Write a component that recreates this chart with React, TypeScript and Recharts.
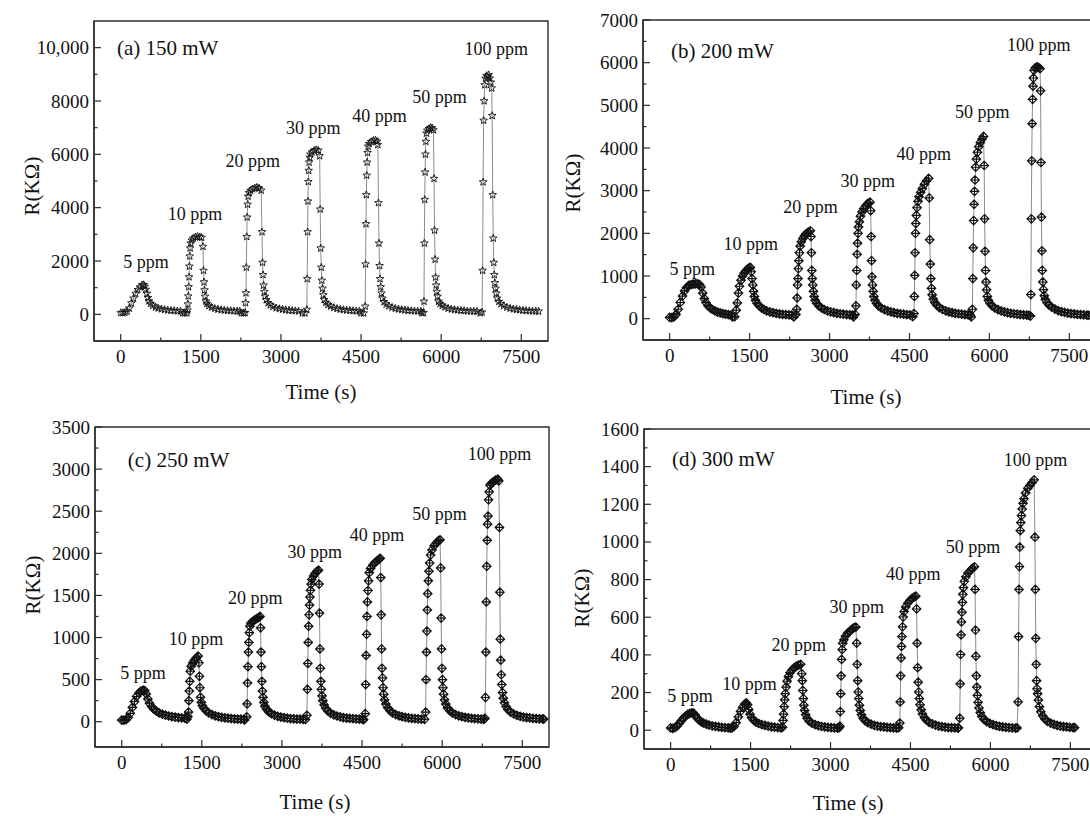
import React from "react";
import { LineChart, Line, XAxis, YAxis, ReferenceArea, ReferenceDot } from "recharts";

const FONT = '"Liberation Serif", "Times New Roman", serif';

const timeTicks = [0, 1500, 3000, 4500, 6000, 7500];
const timeMinorTicks = [750, 2250, 3750, 5250, 6750];

// (a) 150 mW  [time s, R kΩ]
const panelA: [number, number][] = [
  [0,60],[40,55],[80,70],[120,110],[160,230],[200,420],[240,600],[280,780],[320,920],[360,1020],[400,1100],[430,1110],[450,1050],[470,930],[490,780],[510,620],[530,500],[560,400],[600,330],[650,270],[700,230],[760,200],[820,175],[880,160],[940,145],[1000,135],[1060,125],[1120,120],
  [1160,50],[1200,45],[1240,50],[1250,150],[1258,380],[1265,680],[1272,1030],[1279,1400],[1286,1800],[1293,2180],[1300,2480],[1310,2670],[1330,2780],[1360,2850],[1400,2900],[1440,2920],[1480,2900],[1515,2880],[1540,2540],[1550,1640],[1560,1210],[1570,910],[1580,670],[1595,490],[1615,400],[1650,320],[1700,260],[1760,220],[1820,190],[1880,170],[1940,155],[2000,145],[2060,135],[2120,125],[2180,120],[2230,115],
  [2260,50],[2300,45],[2330,60],[2338,430],[2345,800],[2352,1760],[2360,2910],[2368,3640],[2376,4120],[2385,4420],[2400,4560],[2430,4640],[2470,4700],[2510,4740],[2550,4760],[2590,4730],[2630,4650],[2645,3090],[2655,1940],[2665,1480],[2675,1090],[2690,850],[2705,670],[2725,540],[2760,430],[2800,350],[2850,290],[2910,240],[2970,210],[3030,185],[3090,165],[3150,150],[3210,140],[3270,130],[3330,120],
  [3400,50],[3450,45],[3485,180],[3492,1330],[3499,3090],[3506,4240],[3513,4970],[3520,5390],[3528,5700],[3538,5880],[3550,6000],[3580,6080],[3620,6140],[3660,6170],[3700,6150],[3725,5940],[3735,3940],[3745,2480],[3755,1760],[3765,1270],[3778,970],[3792,730],[3810,545],[3840,440],[3880,360],[3930,300],[3990,250],[4050,215],[4110,190],[4170,170],[4230,155],[4290,145],[4350,135],[4410,125],[4470,120],
  [4500,50],[4550,45],[4578,300],[4585,1880],[4592,3390],[4599,4480],[4606,5210],[4614,5700],[4622,6060],[4632,6300],[4650,6400],[4690,6470],[4730,6520],[4770,6530],[4800,6480],[4815,6360],[4826,4180],[4836,2665],[4846,1820],[4856,1330],[4868,1030],[4882,790],[4900,600],[4930,470],[4970,380],[5020,310],[5080,260],[5140,220],[5200,195],[5260,175],[5320,160],[5380,145],[5440,135],[5500,125],[5560,120],[5620,115],
  [5640,50],[5670,60],[5678,485],[5685,2665],[5692,4300],[5699,5330],[5706,6000],[5714,6480],[5724,6790],[5740,6900],[5770,6960],[5800,7000],[5830,6990],[5855,6910],[5866,5090],[5876,3150],[5886,2060],[5896,1390],[5906,1090],[5918,850],[5932,670],[5950,485],[5980,400],[6020,330],[6070,270],[6130,225],[6190,195],[6250,175],[6310,160],[6370,145],[6430,135],[6490,125],[6550,120],[6610,115],[6670,110],
  [6730,50],[6765,80],[6775,1640],[6785,4960],[6795,7270],[6805,8000],[6815,8600],[6830,8850],[6850,8950],[6870,8900],[6890,8980],[6910,8850],[6930,8700],[6945,8480],[6955,7450],[6965,4480],[6975,2850],[6985,1940],[6995,1480],[7005,1180],[7018,970],[7032,790],[7050,600],[7080,480],[7120,390],[7170,320],[7230,265],[7290,225],[7350,200],[7410,180],[7470,165],[7530,150],[7590,140],[7650,130],[7710,125],[7770,120],[7825,115],
];

// (b) 200 mW
const panelB: [number, number][] = [
  [0,30],[40,25],[80,40],[120,100],[160,220],[200,380],[240,530],[280,650],[320,730],[360,780],[400,800],[440,810],[480,815],[520,820],[560,800],[590,740],[620,600],[650,470],[680,380],[720,300],[760,250],[800,215],[850,180],[900,155],[950,135],[1000,120],[1050,105],[1100,95],[1150,85],
  [1180,40],[1220,45],[1250,200],[1270,370],[1290,600],[1310,760],[1340,900],[1370,1000],[1400,1070],[1430,1120],[1460,1160],[1490,1190],[1515,1200],[1530,1100],[1545,940],[1560,790],[1575,640],[1590,520],[1610,430],[1640,360],[1680,300],[1720,255],[1770,215],[1820,185],[1880,160],[1940,140],[2000,125],[2060,110],[2120,100],[2180,95],[2240,90],[2290,85],
  [2330,40],[2370,100],[2385,220],[2392,485],[2400,790],[2407,940],[2415,1170],[2425,1360],[2435,1545],[2450,1700],[2470,1800],[2500,1880],[2530,1940],[2560,1990],[2600,2030],[2640,2060],[2652,1925],[2660,1545],[2668,1130],[2676,940],[2686,790],[2698,640],[2712,520],[2730,430],[2760,360],[2800,300],[2850,250],[2900,215],[2960,180],[3020,160],[3080,140],[3140,125],[3200,115],[3260,105],[3320,95],[3380,90],[3430,85],
  [3450,40],[3480,100],[3495,300],[3502,790],[3510,1130],[3518,1510],[3526,1770],[3535,2000],[3545,2150],[3560,2270],[3580,2400],[3610,2500],[3640,2580],[3680,2650],[3720,2700],[3760,2730],[3772,2530],[3780,1925],[3788,1360],[3796,980],[3806,790],[3818,640],[3832,520],[3850,430],[3880,360],[3920,300],[3970,250],[4030,210],[4090,180],[4150,160],[4210,140],[4270,125],[4330,115],[4390,105],[4450,95],[4510,90],
  [4560,45],[4585,120],[4592,520],[4598,1015],[4605,1545],[4612,2000],[4620,2230],[4630,2420],[4642,2600],[4660,2750],[4680,2860],[4710,2960],[4740,3050],[4780,3150],[4820,3230],[4860,3290],[4872,2830],[4880,1850],[4890,1280],[4900,940],[4912,710],[4926,560],[4945,460],[4975,380],[5010,320],[5060,260],[5120,215],[5180,185],[5240,160],[5300,140],[5360,125],[5420,115],[5480,105],[5540,95],[5600,90],[5640,85],
  [5660,40],[5680,220],[5688,940],[5696,1660],[5704,2300],[5712,2680],[5720,2985],[5730,3250],[5742,3550],[5756,3740],[5775,3900],[5800,4030],[5830,4130],[5860,4210],[5890,4270],[5902,3590],[5910,2340],[5918,1580],[5926,1130],[5936,860],[5948,675],[5962,520],[5980,430],[6010,360],[6050,300],[6100,250],[6160,210],[6220,180],[6280,160],[6340,140],[6400,125],[6460,115],[6520,105],[6580,95],[6640,90],[6700,85],[6740,80],
  [6770,60],[6778,566],[6786,2340],[6794,3700],[6802,4570],[6810,5140],[6818,5450],[6826,5640],[6836,5820],[6860,5880],[6890,5900],[6920,5890],[6950,5860],[6960,5340],[6968,3660],[6976,2380],[6984,1590],[6992,1130],[7002,860],[7014,680],[7030,540],[7050,450],[7080,380],[7120,320],[7170,270],[7230,225],[7290,190],[7350,165],[7410,145],[7470,130],[7530,120],[7590,110],[7650,100],[7710,95],[7770,90],[7830,85],[7860,80],
];

// (c) 250 mW
const panelC: [number, number][] = [
  [0,20],[40,18],[80,25],[120,50],[160,100],[200,170],[240,240],[280,300],[320,340],[360,365],[400,375],[430,370],[460,330],[490,270],[520,220],[560,180],[600,150],[650,125],[700,105],[760,90],[820,78],[880,68],[940,60],[1000,55],[1060,50],[1120,46],[1180,42],
  [1220,30],[1240,60],[1250,115],[1258,250],[1266,365],[1274,480],[1284,600],[1300,660],[1330,700],[1360,730],[1400,760],[1430,780],[1445,700],[1455,540],[1465,404],[1475,290],[1490,230],[1510,190],[1540,160],[1580,130],[1630,105],[1690,85],[1750,70],[1810,60],[1870,52],[1930,46],[1990,42],[2050,38],[2110,35],[2170,32],[2230,30],[2290,28],
  [2300,22],[2340,58],[2348,212],[2356,460],[2364,654],[2372,827],[2380,942],[2390,1058],[2400,1135],[2420,1170],[2450,1190],[2490,1210],[2530,1225],[2570,1240],[2590,1250],[2600,1115],[2608,827],[2616,654],[2624,480],[2634,365],[2646,290],[2660,230],[2680,185],[2710,150],[2750,120],[2800,95],[2860,78],[2920,65],[2980,55],[3040,48],[3100,42],[3160,38],[3220,35],[3280,32],[3340,30],[3400,28],[3440,27],
  [3468,77],[3476,385],[3484,692],[3492,942],[3500,1135],[3508,1270],[3516,1385],[3524,1480],[3534,1560],[3546,1635],[3560,1690],[3590,1730],[3620,1760],[3660,1790],[3685,1800],[3695,1635],[3703,1290],[3711,865],[3719,635],[3728,480],[3738,385],[3750,308],[3766,250],[3790,200],[3820,160],[3860,128],[3910,102],[3970,82],[4030,68],[4090,58],[4150,50],[4210,44],[4270,40],[4330,36],[4390,33],[4450,31],[4510,29],
  [4530,25],[4560,96],[4568,442],[4576,788],[4584,1038],[4592,1250],[4600,1423],[4610,1558],[4622,1673],[4636,1770],[4660,1820],[4700,1860],[4740,1890],[4780,1910],[4820,1930],[4840,1940],[4850,1712],[4858,1270],[4866,865],[4874,635],[4883,520],[4893,404],[4905,327],[4922,260],[4945,210],[4980,165],[5020,132],[5070,105],[5130,85],[5190,70],[5250,60],[5310,52],[5370,46],[5430,41],[5490,37],[5550,34],[5610,31],[5670,29],
  [5690,115],[5698,500],[5706,827],[5714,1077],[5722,1327],[5730,1520],[5740,1673],[5752,1788],[5766,1885],[5784,1980],[5810,2040],[5850,2090],[5890,2120],[5930,2150],[5960,2160],[5972,1827],[5980,1231],[5988,865],[5996,635],[6005,500],[6015,404],[6027,327],[6044,260],[6068,210],[6100,165],[6140,132],[6190,105],[6250,85],[6310,70],[6370,60],[6430,52],[6490,46],[6550,41],[6610,37],[6670,34],[6730,31],[6780,29],
  [6800,40],[6810,288],[6818,827],[6826,1423],[6834,1846],[6842,2154],[6850,2346],[6858,2442],[6868,2635],[6880,2730],[6896,2808],[6920,2830],[6960,2850],[7000,2870],[7040,2880],[7060,2860],[7072,2308],[7080,1538],[7088,980],[7096,731],[7106,558],[7116,442],[7128,346],[7144,280],[7166,225],[7195,180],[7230,145],[7280,115],[7340,92],[7400,76],[7460,64],[7520,56],[7580,50],[7640,45],[7700,41],[7760,38],[7820,35],[7880,33],[7900,32],
];

// (d) 300 mW
const panelD: [number, number][] = [
  [0,12],[40,10],[80,14],[120,22],[160,35],[200,50],[240,64],[280,75],[320,84],[360,89],[400,92],[430,90],[460,80],[500,64],[540,52],[580,44],[620,38],[670,32],[720,27],[780,23],[840,20],[900,17],[960,15],[1020,13],[1080,12],[1120,11],
  [1150,12],[1190,20],[1230,40],[1270,70],[1310,100],[1350,122],[1390,138],[1420,145],[1445,135],[1465,110],[1490,85],[1520,66],[1560,52],[1600,43],[1650,36],[1710,30],[1770,25],[1830,21],[1890,18],[1950,16],[2010,14],[2070,12],
  [2100,16],[2110,52],[2120,85],[2130,125],[2140,161],[2152,194],[2166,229],[2185,260],[2210,285],[2240,305],[2280,320],[2320,332],[2360,340],[2400,345],[2440,350],[2460,300],[2470,263],[2480,211],[2490,168],[2500,133],[2515,105],[2535,82],[2560,64],[2600,48],[2650,37],[2710,29],[2770,24],[2830,20],[2890,17],[2950,15],[3010,13],[3070,12],[3130,11],
  [3165,14],[3175,21],[3183,99],[3191,194],[3199,289],[3208,376],[3218,428],[3230,462],[3250,480],[3280,500],[3320,515],[3360,525],[3400,535],[3440,545],[3475,548],[3490,462],[3500,350],[3510,263],[3520,203],[3530,168],[3542,133],[3558,105],[3580,82],[3610,64],[3650,50],[3700,40],[3760,32],[3820,26],[3880,22],[3940,19],[4000,17],[4060,15],[4120,13],[4180,12],[4240,11],
  [4280,13],[4300,38],[4308,150],[4316,289],[4324,384],[4332,445],[4340,497],[4350,549],[4362,601],[4380,630],[4410,655],[4450,675],[4490,690],[4530,700],[4570,708],[4600,712],[4615,644],[4625,462],[4635,332],[4645,255],[4655,203],[4667,168],[4680,135],[4700,108],[4725,86],[4760,67],[4800,53],[4850,42],[4910,33],[4970,27],[5030,22],[5090,19],[5150,16],[5210,14],[5270,13],[5330,12],[5390,11],
  [5400,13],[5425,64],[5433,246],[5441,402],[5449,506],[5457,575],[5465,627],[5473,679],[5483,722],[5495,757],[5510,791],[5540,815],[5580,835],[5620,848],[5660,860],[5700,868],[5712,748],[5720,532],[5728,393],[5736,289],[5744,229],[5754,185],[5768,148],[5786,118],[5810,93],[5840,73],[5880,57],[5930,45],[5990,36],[6050,29],[6110,24],[6170,20],[6230,17],[6290,15],[6350,13],[6410,12],[6470,11],
  [6500,12],[6520,150],[6528,497],[6536,748],[6544,869],[6552,973],[6560,1060],[6570,1103],[6582,1140],[6596,1175],[6612,1205],[6630,1230],[6660,1260],[6700,1285],[6740,1300],[6780,1315],[6820,1330],[6835,1025],[6843,748],[6851,488],[6859,350],[6867,263],[6876,220],[6886,194],[6900,160],[6920,125],[6945,98],[6980,76],[7020,60],[7070,47],[7130,38],[7190,31],[7250,26],[7310,22],[7370,19],[7430,17],[7490,15],[7550,14],[7580,13],
];

// annotation text, placed at [time, R]
const labelsA: [number, number, string][] = [
  [880, 10000, "(a) 150 mW"], [475, 1960, "5 ppm"], [1390, 3780, "10 ppm"], [2470, 5780, "20 ppm"],
  [3605, 6990, "30 ppm"], [4845, 7460, "40 ppm"], [5970, 8145, "50 ppm"], [7030, 9960, "100 ppm"],
];
const labelsB: [number, number, string][] = [
  [990, 6280, "(b) 200 mW"], [425, 1180, "5 ppm"], [1520, 1750, "10 ppm"], [2645, 2620, "20 ppm"],
  [3715, 3225, "30 ppm"], [4770, 3870, "40 ppm"], [5865, 4840, "50 ppm"], [6925, 6430, "100 ppm"],
];
const labelsC: [number, number, string][] = [
  [1065, 3115, "(c) 250 mW"], [400, 585, "5 ppm"], [1390, 990, "10 ppm"], [2500, 1470, "20 ppm"],
  [3615, 2025, "30 ppm"], [4780, 2220, "40 ppm"], [5950, 2470, "50 ppm"], [7075, 3180, "100 ppm"],
];
const labelsD: [number, number, string][] = [
  [990, 1440, "(d) 300 mW"], [365, 184, "5 ppm"], [1480, 249, "10 ppm"], [2405, 454, "20 ppm"],
  [3490, 656, "30 ppm"], [4550, 830, "40 ppm"], [5675, 973, "50 ppm"], [6845, 1435, "100 ppm"],
];

const yTicksA = [0, 2000, 4000, 6000, 8000, 10000];
const yMinorA = [1000, 3000, 5000, 7000, 9000];
const yTicksB = [0, 1000, 2000, 3000, 4000, 5000, 6000, 7000];
const yMinorB = [500, 1500, 2500, 3500, 4500, 5500, 6500];
const yTicksC = [0, 500, 1000, 1500, 2000, 2500, 3000, 3500];
const yMinorC = [250, 750, 1250, 1750, 2250, 2750, 3250];
const yTicksD = [0, 200, 400, 600, 800, 1000, 1200, 1400, 1600];
const yMinorD = [100, 300, 500, 700, 900, 1100, 1300, 1500];

const AXIS = "#2b2b2b";
const INK = "#111";

function starPath(cx: number, cy: number, r: number) {
  let d = "";
  for (let i = 0; i < 10; i++) {
    const rr = i % 2 === 0 ? r : r * 0.42;
    const a = -Math.PI / 2 + (i * Math.PI) / 5;
    d += (i === 0 ? "M" : "L") + (cx + rr * Math.cos(a)).toFixed(2) + " " + (cy + rr * Math.sin(a)).toFixed(2);
  }
  return d + "Z";
}

function diamondPath(cx: number, cy: number, r: number) {
  return `M${cx - r} ${cy}L${cx} ${cy - r}L${cx + r} ${cy}L${cx} ${cy + r}Z` +
    `M${cx - r} ${cy}L${cx + r} ${cy}M${cx} ${cy - r}L${cx} ${cy + r}`;
}

function makeDot(kind: "star" | "diamond") {
  return (p: any) => {
    const { cx, cy, index } = p;
    if (cx == null || cy == null) return <g key={`d-${index}`} />;
    const star = kind === "star";
    const d = star ? starPath(cx, cy, 4) : diamondPath(cx, cy, 4.3);
    return <path key={`d-${index}`} d={d} fill="none" stroke="#111" strokeWidth={star ? 0.9 : 1.15} />;
  };
}

function XTick(props: any) {
  const { x, y, payload } = props;
  const v = payload.value;
  const major = timeTicks.includes(v);
  return (
    <g>
      <line x1={x} x2={x} y1={y} y2={y - (major ? 7 : 3.5)} stroke={AXIS} strokeWidth={1.2} />
      {major && (
        <text x={x} y={y + 21.5} textAnchor="middle" fontSize={19} fontFamily={FONT} fill={INK}>
          {v}
        </text>
      )}
    </g>
  );
}

function makeYTick(majors: number[]) {
  return (props: any) => {
    const { x, y, payload } = props;
    const v = payload.value;
    const major = majors.includes(v);
    return (
      <g>
        <line x1={x} x2={x + (major ? 7 : 3.5)} y1={y} y2={y} stroke={AXIS} strokeWidth={1.2} />
        {major && (
          <text x={x - 5} y={y + 6.5} textAnchor="end" fontSize={19} fontFamily={FONT} fill={INK}>
            {v >= 10000 ? v.toLocaleString("en-US") : v}
          </text>
        )}
      </g>
    );
  };
}

type PanelProps = {
  plot: { x: number; y: number; w: number; h: number };
  data: [number, number][];
  yDomain: [number, number];
  yTicks: number[];
  yMinor: number[];
  labels: [number, number, string][];
  marker: "star" | "diamond";
};

function Panel({ plot, data, yDomain, yTicks, yMinor, labels, marker }: PanelProps) {
  const rows = data.map(([t, r]) => ({ t, r }));
  const W = plot.w + 90;
  const H = plot.h + 60;
  return (
    <div style={{ position: "absolute", left: plot.x - 80, top: plot.y - 10 }}>
      <LineChart width={W} height={H} data={rows} margin={{ top: 10, right: 10, bottom: 0, left: 0 }}>
        <XAxis
          dataKey="t"
          type="number"
          domain={[-500, 8000]}
          allowDataOverflow
          ticks={[...timeTicks, ...timeMinorTicks].sort((a, b) => a - b)}
          interval={0}
          tickLine={false}
          tickSize={0}
          tickMargin={0}
          tick={<XTick />}
          height={60}
          axisLine={{ stroke: AXIS, strokeWidth: 1.4 }}
        />
        <YAxis
          type="number"
          domain={yDomain}
          allowDataOverflow
          ticks={[...yTicks, ...yMinor].sort((a, b) => a - b)}
          interval={0}
          tickLine={false}
          tickSize={0}
          tickMargin={0}
          tick={makeYTick(yTicks)}
          width={80}
          axisLine={{ stroke: AXIS, strokeWidth: 1.4 }}
        />
        <ReferenceArea
          x1={-500}
          x2={8000}
          y1={yDomain[0]}
          y2={yDomain[1]}
          fill="none"
          fillOpacity={0}
          stroke={AXIS}
          strokeWidth={1.4}
        />
        <Line
          type="linear"
          dataKey="r"
          stroke="#6e6e6e"
          strokeWidth={0.8}
          dot={makeDot(marker)}
          activeDot={false}
          isAnimationActive={false}
        />
        {labels.map(([t, r, text], i) => (
          <ReferenceDot
            key={i}
            x={t}
            y={r}
            r={0}
            shape={(p: any) => (
              <text
                x={p.cx}
                y={p.cy}
                dy="0.35em"
                textAnchor="middle"
                fontSize={text.startsWith("(") ? 21 : 18}
                fontFamily={FONT}
                fill={INK}
              >
                {text}
              </text>
            )}
          />
        ))}
      </LineChart>
    </div>
  );
}

function Title({ x, y, text, rotate }: { x: number; y: number; text: string; rotate?: boolean }) {
  return (
    <div
      style={{
        position: "absolute",
        left: x,
        top: y,
        transform: `translate(-50%, -50%)${rotate ? " rotate(-90deg)" : ""}`,
        whiteSpace: "nowrap",
        fontFamily: FONT,
        fontSize: 21,
        lineHeight: 1,
        color: INK,
      }}
    >
      {text}
    </div>
  );
}

export default function App() {
  return (
    <div
      style={{
        position: "fixed",
        left: 0,
        top: 0,
        width: 1090,
        height: 816,
        overflow: "hidden",
        background: "#fff",
      }}
    >
      <Panel plot={{ x: 94, y: 21, w: 454, h: 330 }} data={panelA} yDomain={[-1000, 11000]} yTicks={yTicksA} yMinor={yMinorA} labels={labelsA} marker="star" />
      <Panel plot={{ x: 643, y: 20, w: 453, h: 330 }} data={panelB} yDomain={[-500, 7000]} yTicks={yTicksB} yMinor={yMinorB} labels={labelsB} marker="diamond" />
      <Panel plot={{ x: 95, y: 427, w: 454, h: 330 }} data={panelC} yDomain={[-300, 3500]} yTicks={yTicksC} yMinor={yMinorC} labels={labelsC} marker="diamond" />
      <Panel plot={{ x: 644, y: 429, w: 453, h: 330 }} data={panelD} yDomain={[-100, 1600]} yTicks={yTicksD} yMinor={yMinorD} labels={labelsD} marker="diamond" />

      <Title x={321} y={392} text="Time (s)" />
      <Title x={866} y={397} text="Time (s)" />
      <Title x={315} y={802} text="Time (s)" />
      <Title x={848} y={803} text="Time (s)" />
      <Title x={32} y={186} text="R(KΩ)" rotate />
      <Title x={573} y={183} text="R(KΩ)" rotate />
      <Title x={33} y={585} text="R(KΩ)" rotate />
      <Title x={582} y={598} text="R(KΩ)" rotate />
    </div>
  );
}
